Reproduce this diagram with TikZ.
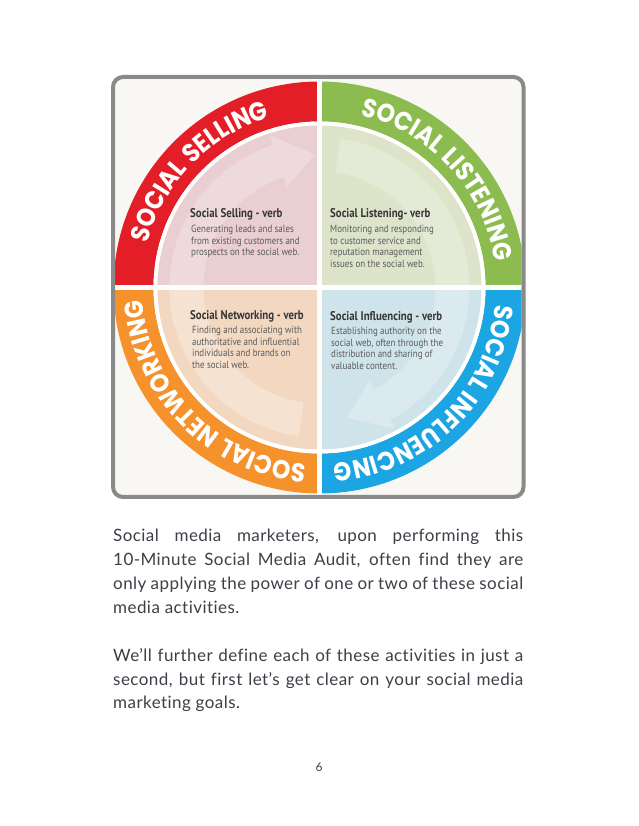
\documentclass[tikz,border=0pt]{standalone}
\usepackage{fontspec}
\usetikzlibrary{decorations.text}
\setmainfont{Lato}
\newfontfamily\arcfont{Poppins}[FakeStretch=0.9, LetterSpace=4]
\newfontfamily\qfont{PT Sans}[FakeStretch=0.86]
\newfontfamily\parafont{Lato}[LetterSpace=2.6, Ligatures={NoCommon,NoRare,NoContextual}]
\definecolor{framegray}{HTML}{8A8A8A}
\definecolor{paper}{HTML}{F8F7F3}
\definecolor{cRed}{HTML}{E41E26}
\definecolor{cGreen}{HTML}{8CBC4F}
\definecolor{cOrange}{HTML}{F5922B}
\definecolor{cBlue}{HTML}{1CA5E3}
\definecolor{qRed}{HTML}{E9CED2}
\definecolor{qGreen}{HTML}{DDE4CA}
\definecolor{qOrange}{HTML}{F3D8C1}
\definecolor{qBlue}{HTML}{CFE3EA}
\definecolor{txt}{HTML}{3E3F47}
\definecolor{qheadc}{HTML}{363636}
\definecolor{qbodyc}{HTML}{5A5A5A}
\tikzset{
  para/.style={anchor=base west, inner sep=0pt, text=txt, font=\parafont\fontsize{17}{20}\selectfont},
  qhead/.style={anchor=base west, inner sep=0pt, text=qheadc, font=\qfont\bfseries\fontsize{12.6}{14}\selectfont},
  qbody/.style={anchor=base west, inner sep=0pt, text=qbodyc, font=\qfont\fontsize{10.4}{12}\selectfont},
  arcwords/.style={decorate, decoration={text along path, text align=center,
     text={|\arcfont\bfseries\fontsize{26}{26}\selectfont\color{white}|#1}}},
  palearrow/.style={fill=white, fill opacity=0.26}
}
\begin{document}
\begin{tikzpicture}[x=1pt,y=1pt]
\useasboundingbox (0,0) rectangle (638,826);
\fill[white] (0,0) rectangle (638,826);
\fill[paper, rounded corners=10pt] (113,329) rectangle (523.5,749);
\coordinate (c) at (319.5,538.5);
\begin{scope}
\clip[rounded corners=8pt] (115,331) rectangle (521.5,747);
\begin{scope}[shift={(319.5,538.5)}]
% bands
\fill[cRed]    (90:206) arc[start angle=90, end angle=180, radius=206] -- (180:166) arc[start angle=180, end angle=90, radius=166] -- cycle;
\fill[cGreen]  (0:206) arc[start angle=0, end angle=90, radius=206] -- (90:166) arc[start angle=90, end angle=0, radius=166] -- cycle;
\fill[cBlue]   (-90:206) arc[start angle=-90, end angle=0, radius=206] -- (0:166) arc[start angle=0, end angle=-90, radius=166] -- cycle;
\fill[cOrange] (180:206) arc[start angle=180, end angle=270, radius=206] -- (270:166) arc[start angle=270, end angle=180, radius=166] -- cycle;
% white ring
\fill[white] (0,0) circle[radius=166];
% quadrants
\fill[qRed]    (0,0) -- (90:162) arc[start angle=90, end angle=180, radius=162] -- cycle;
\fill[qGreen]  (0,0) -- (0:162) arc[start angle=0, end angle=90, radius=162] -- cycle;
\fill[qBlue]   (0,0) -- (-90:162) arc[start angle=-90, end angle=0, radius=162] -- cycle;
\fill[qOrange] (0,0) -- (180:162) arc[start angle=180, end angle=270, radius=162] -- cycle;
% pale circular arrows
\fill[palearrow] (262:150) arc[start angle=262, end angle=108, radius=150] -- (108:160) -- (92:133) -- (108:106) -- (108:116) arc[start angle=108, end angle=262, radius=116] -- cycle;
\fill[palearrow] (82:150) arc[start angle=82, end angle=-62, radius=150] -- (-62:160) -- (-78:133) -- (-62:106) -- (-62:116) arc[start angle=-62, end angle=82, radius=116] -- cycle;
% cross
\fill[white] (-2.5,-210) rectangle (2.5,210);
\fill[white] (-210,-2.5) rectangle (210,2.5);
% arc words
\path[arcwords={SOCIAL SELLING}] (191:177) arc[start angle=191, end angle=81, radius=177];
\path[arcwords={SOCIAL LISTENING}] (97.5:177) arc[start angle=97.5, end angle=-12.5, radius=177];
\path[arcwords={SOCIAL INFLUENCING}] (9.5:177) arc[start angle=9.5, end angle=-100.5, radius=177];
\path[arcwords={SOCIAL NETWORKING}] (280:177) arc[start angle=280, end angle=170, radius=177];
\end{scope}
\end{scope}
\draw[framegray, line width=4pt, rounded corners=10pt] (113,329) rectangle (523.5,749);
% quadrant texts
\node[qhead] (hsell) at (190,608) {Social Selling - verb};
\foreach \t [count=\i] in {Generating leads and sales, from existing customers and, prospects on the social web.}
  \node[qbody] (sell\i) at (191,{593-11.5*(\i-1)}) {\t};
\node[qhead] (hlist) at (330,608) {Social Listening- verb};
\foreach \t [count=\i] in {Monitoring and responding, to customer service and, reputation management, issues on the social web.}
  \node[qbody] (list\i) at (330,{593-11.5*(\i-1)}) {\t};
\node[qhead] (hnet) at (190,506) {Social Networking - verb};
\foreach \t [count=\i] in {Finding and associating with, authoritative and influential, individuals and brands on, the social web.}
  \node[qbody] (net\i) at (192,{492-11.5*(\i-1)}) {\t};
\node[qhead] (hinf) at (330,505.5) {Social Influencing - verb};
\foreach \t [count=\i] in {Establishing authority on the, {social web, often through the}, distribution and sharing of, valuable content.}
  \node[qbody] (inf\i) at (331,{491-11.5*(\i-1)}) {\t};
% paragraphs
\node[para] (p1) at (113,284) {\makebox[410pt][s]{Social media marketers, upon performing this}};
\node[para] (p2) at (113,260) {\makebox[410pt][s]{10-Minute Social Media Audit, often find they are}};
\node[para] (p3) at (113,236) {\makebox[410pt][s]{only applying the power of one or two of these social}};
\node[para] (p4) at (113,212) {media activities.};
\node[para] (p5) at (113,164) {\makebox[410pt][s]{We’ll further define each of these activities in just a}};
\node[para] (p6) at (113,140) {\makebox[410pt][s]{second, but first let’s get clear on your social media}};
\node[para] (p7) at (113,117) {marketing goals.};
\node[anchor=base, inner sep=0pt, text=txt, font=\parafont\fontsize{12}{14}\selectfont] (pg) at (319,54) {6};
\end{tikzpicture}
\end{document}
